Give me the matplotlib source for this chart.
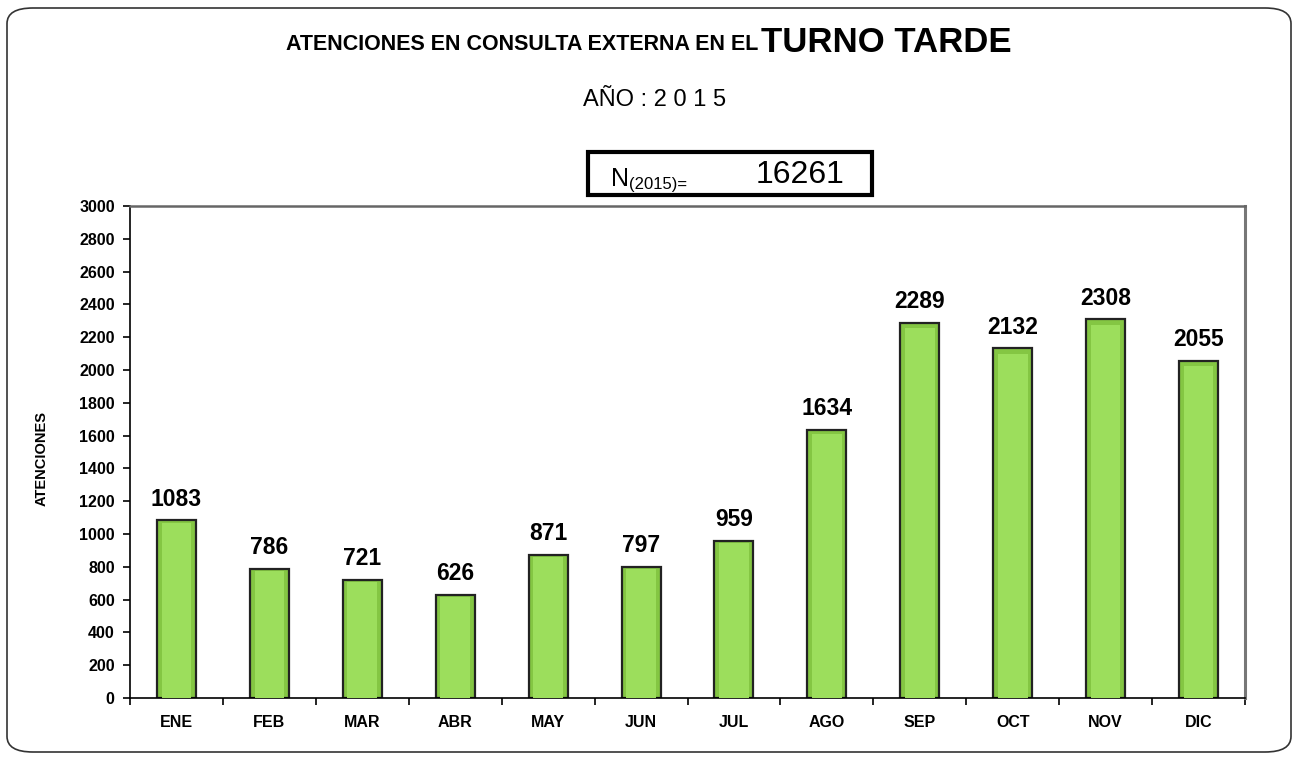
import numpy as np
import matplotlib.pyplot as plt
from matplotlib.patches import FancyBboxPatch, Rectangle

meses = ["ENE", "FEB", "MAR", "ABR", "MAY", "JUN", "JUL", "AGO", "SEP", "OCT", "NOV", "DIC"]
atenciones = [1083, 786, 721, 626, 871, 797, 959, 1634, 2289, 2132, 2308, 2055]
total = 16261

plt.rcParams['font.family'] = ['Liberation Sans', 'DejaVu Sans']

fig = plt.figure(figsize=(12.98, 7.6), dpi=100)

# marco redondeado exterior
marco = FancyBboxPatch((7/1298, 8/760), 1284/1298, 744/760,
                       boxstyle="round,pad=0,rounding_size=0.02",
                       transform=fig.transFigure, fill=False,
                       edgecolor="#333333", linewidth=1.2, mutation_aspect=1298/760 * 0.6)
fig.patches.append(marco)

ax = fig.add_axes([130/1298, 1 - 698/760, 1115/1298, 492/760])
x = np.arange(len(meses))

# barras con efecto biselado
ax.bar(x, atenciones, width=0.42, color="#84C643", edgecolor="#222222", linewidth=1.6, zorder=2)
ax.bar(x, np.array(atenciones) * 0.985, width=0.32, color="#9CDE5C", linewidth=0, zorder=3)

for xi, v in zip(x, atenciones):
    ax.text(xi, v + 60, str(v), ha="center", va="bottom", fontsize=16.5, fontweight="bold")

ax.set_xlim(-0.5, len(meses) - 0.5)
ax.set_ylim(0, 3000)
ax.set_yticks(np.arange(0, 3001, 200))
ax.set_xticks(x)
ax.set_xticklabels(meses, fontsize=11.5, fontweight="bold")
ax.set_xticks(np.arange(-0.5, len(meses), 1), minor=True)
ax.tick_params(axis="x", which="major", length=0, pad=12)
ax.tick_params(axis="x", which="minor", length=5, direction="out", width=1.2)
ax.tick_params(axis="y", length=5, direction="out", width=1.2, pad=6)
for lab in ax.get_yticklabels():
    lab.set_fontweight("bold")
    lab.set_fontsize(11.5)

ax.spines["left"].set_color("black")
ax.spines["bottom"].set_color("black")
ax.spines["left"].set_linewidth(1.2)
ax.spines["bottom"].set_linewidth(1.2)
ax.spines["top"].set_color("#666666")
ax.spines["right"].set_color("#777777")
ax.spines["top"].set_linewidth(1.8)
ax.spines["right"].set_linewidth(2.2)

fig.text(42/1298, 1 - 458/760, "ATENCIONES", rotation=90, ha="center", va="center",
         fontsize=10.5, fontweight="bold")

# titulo
fig.text(758/1298, 1 - 45/760, "ATENCIONES EN CONSULTA EXTERNA EN EL", ha="right", va="center",
         fontsize=15.5, fontweight="bold")
fig.text(761/1298, 1 - 42/760, "TURNO TARDE", ha="left", va="center",
         fontsize=25, fontweight="bold")
fig.text(655/1298, 1 - 100/760, "AÑO : 2 0 1 5", ha="center", va="center", fontsize=17)

# recuadro del total
caja = Rectangle((588/1298, 1 - 195/760), 284/1298, 43/760, transform=fig.transFigure,
                 fill=False, edgecolor="black", linewidth=3)
fig.patches.append(caja)
fig.text(611/1298, 1 - 179/760, "N", ha="left", va="center", fontsize=18)
fig.text(629/1298, 1 - 185/760, "(2015)=", ha="left", va="center", fontsize=12)
fig.text(845/1298, 1 - 175/760, str(total), ha="right", va="center", fontsize=23)

fig.savefig("out.png", dpi=100)
